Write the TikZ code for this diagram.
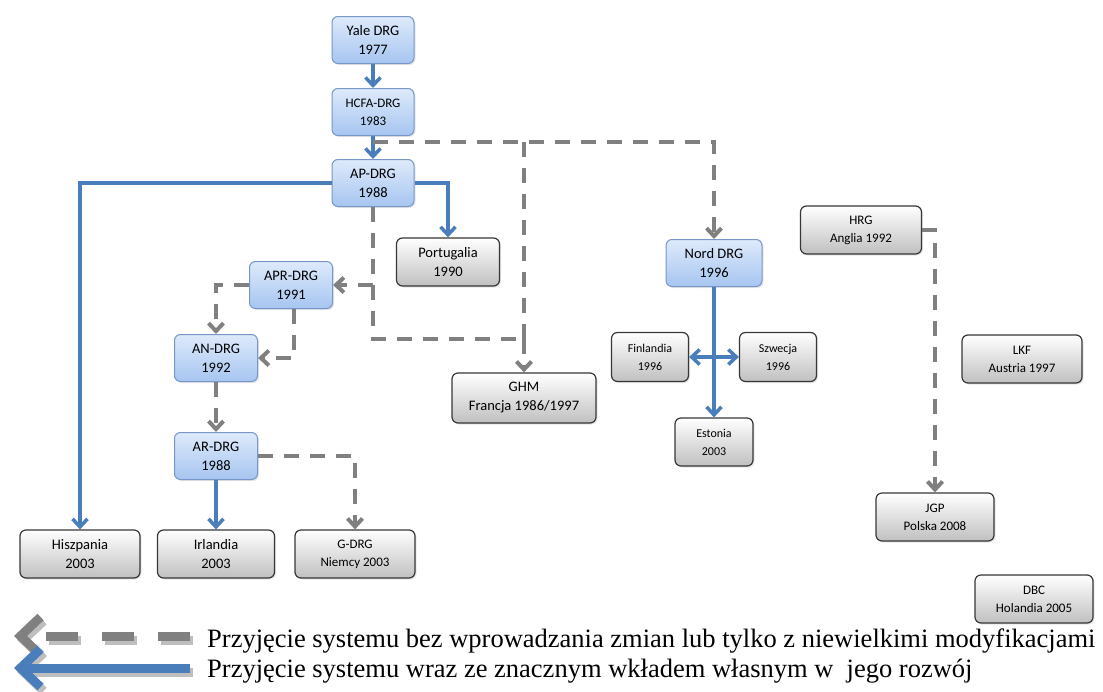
\documentclass[tikz,border=0pt]{standalone}
\usepackage{fontspec}
\setmainfont{Liberation Serif}
\newfontfamily\boxfont{Carlito}
\usepackage{tikz}
\usetikzlibrary{arrows.meta,calc,shadows}
\definecolor{drgblue}{RGB}{74,126,187}
\definecolor{drggray}{RGB}{128,128,128}
\definecolor{drgshade}{RGB}{190,190,190}
\definecolor{boxblueT}{RGB}{222,234,251}
\definecolor{boxblueB}{RGB}{166,197,240}
\definecolor{boxblueD}{RGB}{120,150,200}
\definecolor{boxgrayB}{RGB}{192,192,192}
\definecolor{boxgrayD}{RGB}{55,55,55}

\begin{document}
\begin{tikzpicture}[x=1pt, y=-1pt,
    sys/.style={draw=boxblueD, line width=1pt, rounded corners=6pt,
                top color=boxblueT, bottom color=boxblueB,
                align=center, inner sep=0pt, minimum width=82pt, minimum height=47pt,
                font=\boxfont\fontsize{14.5}{19}\selectfont,
                drop shadow={opacity=0.2, shadow xshift=1.5pt, shadow yshift=-1.5pt}},
    cty/.style={draw=boxgrayD, line width=1.2pt, rounded corners=6pt,
                top color=white, bottom color=boxgrayB,
                align=center, inner sep=0pt, minimum width=118pt, minimum height=48pt,
                font=\boxfont\fontsize{14.5}{19}\selectfont,
                drop shadow={opacity=0.2, shadow xshift=1.5pt, shadow yshift=-1.5pt}},
    small/.style={font=\boxfont\fontsize{13}{18}\selectfont},
    tiny/.style={font=\boxfont\fontsize{12}{18}\selectfont},
    own/.style={draw=drgblue, line width=3.5pt, -{Straight Barb[length=8pt,width=15pt]}},
    ownline/.style={draw=drgblue, line width=3.5pt},
    copy/.style={draw=drggray, line width=4pt, dash pattern=on 15pt off 11pt,
                 -{Straight Barb[length=8pt,width=15pt]}},
    copyline/.style={draw=drggray, line width=4pt, dash pattern=on 15pt off 11pt},
    legtext/.style={anchor=base west, inner sep=0pt, font=\fontsize{26.5}{31}\selectfont}
]
    \useasboundingbox (0,0) rectangle (1103,691);

    % systems
    \node[sys]                          (yale) at (373,40)  {Yale DRG\\1977};
    \node[sys, small]                   (hcfa) at (373,112) {HCFA-DRG\\1983};
    \node[sys]                          (ap)   at (373,183) {AP-DRG\\1988};
    \node[sys, minimum width=83pt]      (apr)  at (291,285) {APR-DRG\\1991};
    \node[sys, minimum width=83pt]      (an)   at (216,358) {AN-DRG\\1992};
    \node[sys, minimum width=83pt]      (ar)   at (216,456) {AR-DRG\\1988};
    \node[sys, minimum width=96pt]      (nord) at (714,263) {Nord DRG\\1996};

    % countries
    \node[cty, minimum width=103pt]     (port) at (448,262) {Portugalia\\1990};
    \node[cty, minimum width=120pt]     (hisz) at (80,554)  {Hiszpania\\2003};
    \node[cty, minimum width=117pt]     (irl)  at (216,554) {Irlandia\\2003};
    \node[cty, small, minimum width=120pt] (gdrg) at (355,554) {G-DRG\\Niemcy 2003};
    \node[cty, minimum width=144pt, minimum height=50pt] (ghm) at (524,398) {GHM\\Francja 1986/1997};
    \node[cty, tiny, minimum width=77pt, minimum height=49pt] (fin) at (650,357) {Finlandia\\1996};
    \node[cty, tiny, minimum width=77pt, minimum height=49pt] (szw) at (778,357) {Szwecja\\1996};
    \node[cty, tiny, minimum width=78pt] (est)  at (714,442) {Estonia\\2003};
    \node[cty, small, minimum width=121pt] (hrg)  at (861,230) {HRG\\Anglia 1992};
    \node[cty, small, minimum width=120pt] (lkf)  at (1022,359) {LKF\\Austria 1997};
    \node[cty, small, minimum width=118pt] (jgp)  at (935,517) {JGP\\Polska 2008};
    \node[cty, small, minimum width=118pt] (dbc)  at (1034,599) {DBC\\Holandia 2005};

    % own development (blue)
    \draw[own] (yale) -- (hcfa);
    \draw[own] (hcfa) -- (ap);
    \draw[own] (ap.west) -| (hisz.north);
    \draw[own] (ap.east) -| (port.north);
    \draw[own] (ar) -- (irl);
    \draw[own] (nord) -- (est);
    \draw[draw=drgblue, line width=3.5pt,
          {Straight Barb[length=8pt,width=15pt]}-{Straight Barb[length=8pt,width=15pt]}] (fin) -- (szw);

    % adopted (grey, dashed)
    \coordinate (split) at ([yshift=-6pt]hcfa.south);
    \coordinate (loop)  at (ghm.north |- 0,339);
    \draw[copy] (split) -| (nord.north);
    \draw[copyline] (split -| loop) -- (loop);
    \draw[copyline] (ap.south) |- (loop);
    \draw[copy] (loop) -- (ghm.north);
    \draw[copy] (ap.south |- apr.east) -- (apr.east);
    \draw[copy] (apr.west) -| (an.north);
    \draw[copy] ([xshift=3pt]apr.south) |- (an.east);
    \draw[copy] (an) -- (ar);
    \draw[copy] (ar.east) -| (gdrg.north);
    \draw[copy] (hrg.east) -| (jgp.north);

    % legend
    \coordinate (gA) at (190,636);
    \coordinate (gB) at (14,636);
    \coordinate (bA) at (190,668);
    \coordinate (bB) at (14,668);
    \draw[draw=drgshade, line width=9pt, dash pattern=on 32pt off 24pt,
          -{Straight Barb[length=20pt,width=38pt]},
          transform canvas={shift={(3pt,-4pt)}}] (gA) -- (gB);
    \draw[draw=drggray, line width=9pt, dash pattern=on 32pt off 24pt,
          -{Straight Barb[length=20pt,width=38pt]}] (gA) -- (gB);
    \draw[draw=drgshade, line width=9pt, -{Straight Barb[length=20pt,width=38pt]},
          transform canvas={shift={(3pt,-4pt)}}] (bA) -- (bB);
    \draw[draw=drgblue, line width=9pt, -{Straight Barb[length=20pt,width=38pt]}] (bA) -- (bB);
    \node[legtext] (leg1) at (207,647) {Przyjęcie systemu bez wprowadzania zmian lub tylko z niewielkimi modyfikacjami};
    \node[legtext] (leg2) at (207,677) {Przyjęcie systemu wraz ze znacznym wkładem własnym w~ jego rozwój};
\end{tikzpicture}
\end{document}
